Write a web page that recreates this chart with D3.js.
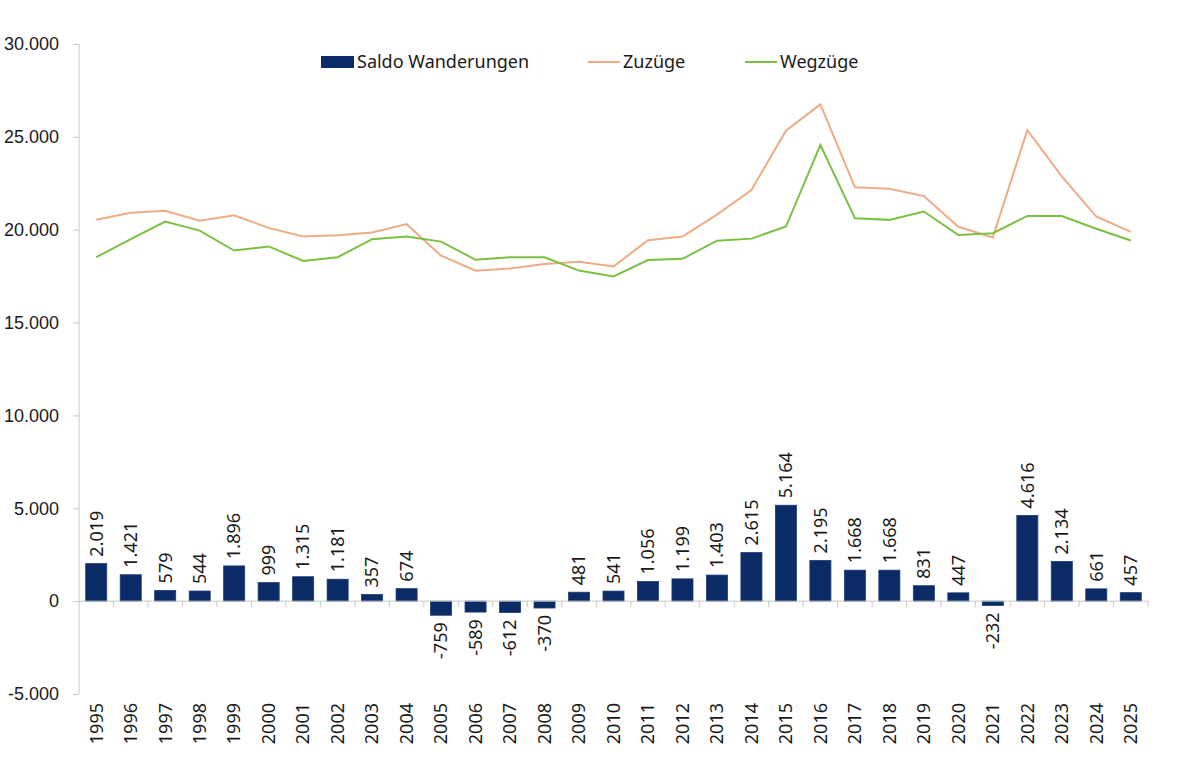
<!DOCTYPE html>
<html>
<head>
<meta charset="utf-8">
<script src="https://cdn.jsdelivr.net/npm/d3@7"></script>
<style>
  body { margin: 0; background: #fff; }
  svg { font-family: "Noto Sans", "Open Sans", sans-serif; }
  .axis path, .axis line { stroke: #c8c8c8; }
  .axis text { fill: #1a1a1a; font-size: 18px; }
</style>
</head>
<body>
<svg id="chart" width="1180" height="773"></svg>
<script>
// Jahre
var years = ["1995","1996","1997","1998","1999","2000","2001","2002","2003","2004",
  "2005","2006","2007","2008","2009","2010","2011","2012","2013","2014",
  "2015","2016","2017","2018","2019","2020","2021","2022","2023","2024","2025"];

// Saldo Wanderungen (Balken)
var saldo = [2019, 1421, 579, 544, 1896, 999, 1315, 1181, 357, 674,
  -759, -589, -612, -370, 481, 541, 1056, 1199, 1403, 2615,
  5164, 2195, 1668, 1668, 831, 447, -232, 4616, 2134, 661, 457];

// Zuzüge (Linie)
var zuzuege = [20540, 20910, 21020, 20490, 20780, 20100, 19640, 19700, 19850, 20300,
  18600, 17790, 17910, 18150, 18280, 18020, 19430, 19630, 20810, 22140,
  25330, 26750, 22290, 22200, 21810, 20160, 19580, 25360, 22870, 20710, 19880];

// Wegzüge (Linie)
var wegzuege = [18520, 19490, 20440, 19950, 18880, 19100, 18320, 18520, 19490, 19630,
  19360, 18380, 18520, 18520, 17800, 17480, 18370, 18430, 19410, 19520,
  20170, 24560, 20620, 20530, 20980, 19710, 19810, 20740, 20740, 20050, 19420];

var yTicks = [-5000, 0, 5000, 10000, 15000, 20000, 25000, 30000];

var fmt = function(v) {
  return d3.format(",")(v).replace(/,/g, ".").replace("−", "-");
};

var svg = d3.select("#chart");
var mLeft = 79, mRight = 1148, mTop = 44, mBottom = 694;
var fs = 18;

var x = d3.scaleBand()
    .domain(years)
    .range([mLeft, mRight])
    .paddingInner(0.39)
    .paddingOuter(0.195);

var xEdge = d3.scaleBand().domain(years).range([mLeft, mRight]);

var y = d3.scaleLinear()
    .domain([-5000, 30000])
    .range([mBottom, mTop]);

// Y-Achse
var yAxis = svg.append("g")
    .attr("class", "axis")
    .attr("transform", "translate(" + mLeft + ",0)")
    .call(d3.axisLeft(y).tickValues(yTicks).tickSize(6).tickPadding(14).tickFormat(fmt));
yAxis.select(".domain").attr("d", "M0," + y(-5000) + "V" + y(30000));

// Balken
svg.append("g").selectAll("rect")
    .data(saldo)
    .enter().append("rect")
    .attr("x", function(d, i) { return x(years[i]); })
    .attr("y", function(d) { return y(Math.max(0, d)); })
    .attr("width", x.bandwidth())
    .attr("height", function(d) { return Math.abs(y(d) - y(0)); })
    .attr("fill", "#0b2b66")
    .attr("stroke", "#1d3a72")
    .attr("stroke-width", 0.8);

// Nulllinie mit Kategorie-Ticks
var zero = svg.append("g").attr("class", "axis");
zero.append("line")
    .attr("x1", mLeft).attr("x2", mRight)
    .attr("y1", y(0)).attr("y2", y(0));
zero.selectAll(".tk")
    .data(years.slice(1).concat(["end"]))
    .enter().append("line")
    .attr("class", "tk")
    .attr("x1", function(d, i) { return i < years.length - 1 ? xEdge(d) : mRight; })
    .attr("x2", function(d, i) { return i < years.length - 1 ? xEdge(d) : mRight; })
    .attr("y1", y(0)).attr("y2", y(0) + 6);

// Jahreszahlen
svg.append("g").selectAll("text")
    .data(years)
    .enter().append("text")
    .attr("transform", function(d) {
      return "translate(" + (x(d) + x.bandwidth() / 2) + "," + (y(-5000) + 9) + ") rotate(-90)";
    })
    .attr("dy", "0.35em")
    .attr("text-anchor", "end")
    .attr("font-size", fs)
    .attr("fill", "#1a1a1a")
    .text(function(d) { return d; });

// Datenbeschriftungen
svg.append("g").selectAll("text")
    .data(saldo)
    .enter().append("text")
    .attr("transform", function(d, i) {
      var py = d >= 0 ? y(d) - 7 : y(d) + 7;
      return "translate(" + (x(years[i]) + x.bandwidth() / 2) + "," + py + ") rotate(-90)";
    })
    .attr("dy", "0.35em")
    .attr("text-anchor", function(d) { return d >= 0 ? "start" : "end"; })
    .attr("font-size", fs)
    .attr("fill", "#1a1a1a")
    .text(function(d) { return fmt(d); });

// Linien
var line = d3.line()
    .x(function(d, i) { return x(years[i]) + x.bandwidth() / 2; })
    .y(function(d) { return y(d); });

svg.append("path")
    .datum(zuzuege)
    .attr("d", line)
    .attr("fill", "none")
    .attr("stroke", "#eeac86")
    .attr("stroke-width", 2);

svg.append("path")
    .datum(wegzuege)
    .attr("d", line)
    .attr("fill", "none")
    .attr("stroke", "#7cc043")
    .attr("stroke-width", 2);

// Legende
var legend = svg.append("g").attr("font-size", fs).attr("fill", "#1a1a1a");
legend.append("rect").attr("x", 321).attr("y", 56).attr("width", 33).attr("height", 12).attr("fill", "#0b2b66");
legend.append("text").attr("x", 357).attr("y", 62).attr("dy", "0.35em").text("Saldo Wanderungen");
legend.append("line").attr("x1", 588).attr("x2", 620).attr("y1", 62).attr("y2", 62)
    .attr("stroke", "#eeac86").attr("stroke-width", 2);
legend.append("text").attr("x", 623).attr("y", 62).attr("dy", "0.35em").text("Zuzüge");
legend.append("line").attr("x1", 745).attr("x2", 777).attr("y1", 62).attr("y2", 62)
    .attr("stroke", "#7cc043").attr("stroke-width", 2);
legend.append("text").attr("x", 780).attr("y", 62).attr("dy", "0.35em").text("Wegzüge");
</script>
</body>
</html>
